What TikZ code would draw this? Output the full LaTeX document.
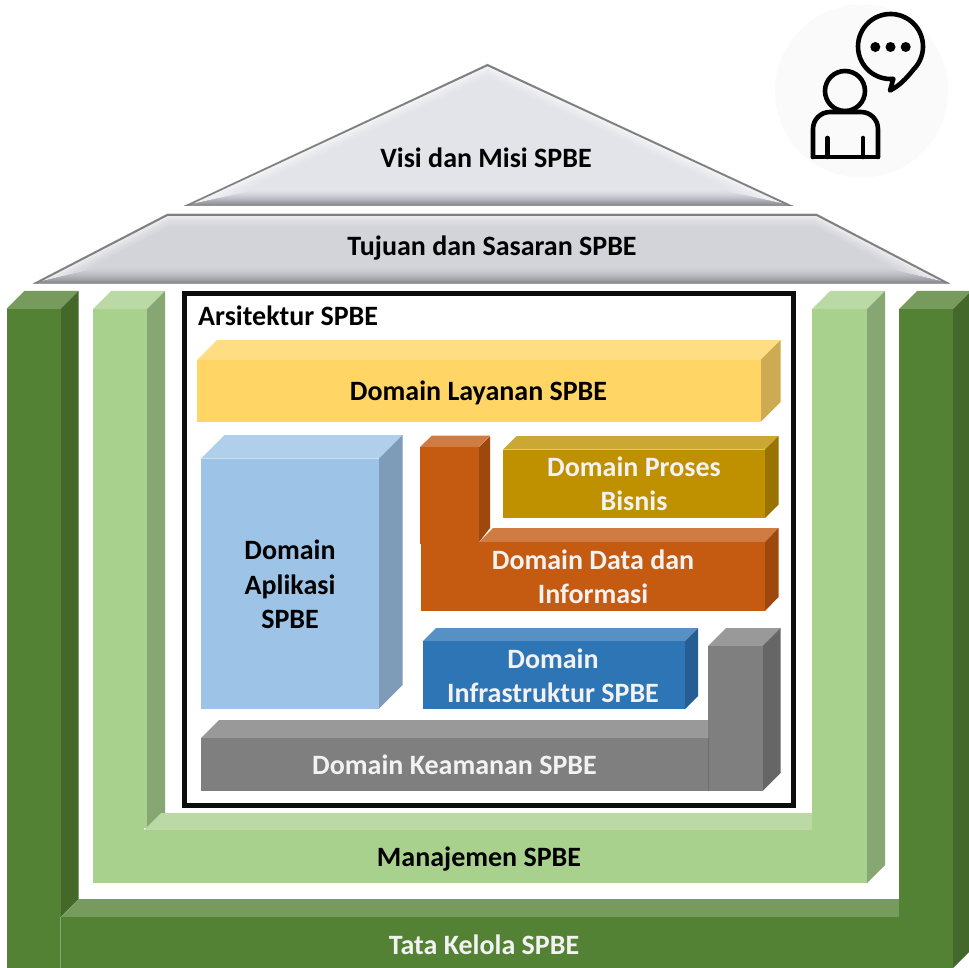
\documentclass[tikz,border=0pt]{standalone}
\usepackage{fontspec}
\setmainfont{Carlito}
\definecolor{dgF}{HTML}{548235}\definecolor{dgT}{HTML}{769B5D}\definecolor{dgS}{HTML}{43682A}
\definecolor{lgF}{HTML}{A9D18E}\definecolor{lgT}{HTML}{BAD9A5}\definecolor{lgS}{HTML}{87A772}
\definecolor{yeF}{HTML}{FFD666}\definecolor{yeT}{HTML}{FFDD82}\definecolor{yeS}{HTML}{CCAB52}
\definecolor{lbF}{HTML}{9DC3E6}\definecolor{lbT}{HTML}{B0CFEB}\definecolor{lbS}{HTML}{7E9CB8}
\definecolor{orF}{HTML}{C55A11}\definecolor{orT}{HTML}{D07B41}\definecolor{orS}{HTML}{9E480E}
\definecolor{goF}{HTML}{BF9000}\definecolor{goT}{HTML}{CBA733}\definecolor{goS}{HTML}{997300}
\definecolor{blF}{HTML}{2E75B6}\definecolor{blT}{HTML}{5790C5}\definecolor{blS}{HTML}{255E92}
\definecolor{grF}{HTML}{7F7F7F}\definecolor{grT}{HTML}{999999}\definecolor{grS}{HTML}{666666}
\definecolor{roofA}{HTML}{E3E4E9}\definecolor{roofB}{HTML}{D3D3DA}
\definecolor{roofLine}{HTML}{7F7F7F}\definecolor{roofDark}{HTML}{9A9AA2}
\definecolor{iconBg}{HTML}{FAFAFA}
\tikzset{
  label dark/.style={font=\fontsize{28}{34.5}\selectfont\bfseries, text=black, align=center, inner sep=0pt},
  label light/.style={font=\fontsize{28}{34.5}\selectfont\bfseries, text=white!95!black, align=center, inner sep=0pt},
  icon line/.style={draw=black, line width=4.6pt, line join=round, line cap=round},
}
% x0 y0 x1 y1 (front face), offset, colour prefix
\newcommand{\cuboid}[6]{%
  \fill[#6T] (#1,#2) -- (#1+#5,#2-#5) -- (#3+#5,#2-#5) -- (#3,#2) -- cycle;
  \fill[#6S] (#3,#2) -- (#3+#5,#2-#5) -- (#3+#5,#4-#5) -- (#3,#4) -- cycle;
  \fill[#6F] (#1,#2) rectangle (#3,#4);
}
% main colour, clip polygon, lit path, xl, xr, ybase, tan(half corner)
\newcommand{\bevel}[7]{%
  \begin{scope}
    \clip #2;
    \fill[#1] (-50,0) rectangle (1050,330);
    \foreach \d/\p in {14/100,12/92,10/84,8/74,6/62,4/48,2/30}{
      \draw[line width=2*\d pt,color=#1!\p!white,line join=miter,miter limit=20] #3;
    }
    \foreach \d in {17,16,...,3}{
      \pgfmathsetmacro{\p}{100*pow((17-\d)/14,1.6)}
      \fill[color=roofDark!\p!#1] (#4,#6) -- (#4+\d/#7,#6-\d) -- (#5-\d/#7,#6-\d) -- (#5,#6) -- cycle;
    }
    \fill[roofLine!85!white] (#4,#6) -- (#4+2/#7,#6-2.4) -- (#5-2/#7,#6-2.4) -- (#5,#6) -- cycle;
    \draw[roofLine,line width=4pt,line join=miter,miter limit=20] #3;
  \end{scope}
}
\begin{document}
\begin{tikzpicture}[x=1pt,y=-1pt]
\useasboundingbox (0,0) rectangle (969,968);
\clip (0,0) rectangle (969,968);
\fill[white] (0,0) rectangle (969,968);

% icon
\fill[iconBg] (861.5,91) circle[radius=86.5];
\draw[icon line] (890.5,46.5) ++(85:32.5) arc[start angle=85,end angle=405,radius=32.5]
   .. controls (906,79) and (899,86) .. (890,90.5) -- cycle;
\foreach \x in {875.3,890.5,905.7} \fill (\x,47) circle[radius=5];
\draw[icon line] (845,91) circle[radius=20];
\draw[icon line,rounded corners=17pt] (813,157) -- (813,112) -- (878,112) -- (878,157);
\draw[icon line] (813,157) -- (878,157);
\draw[icon line] (827.3,138) -- (827.3,157);
\draw[icon line] (863,138) -- (863,157);

% roof
\bevel{roofA}{(487.5,64) -- (793,206) -- (184,206) -- cycle}{(93,248) -- (487.5,64) -- (884,248)}{184}{793}{206}{0.22}
\bevel{roofB}{(167,214) -- (817,214) -- (950,283.5) -- (33,283.5) -- cycle}{(-34,318) -- (167,214) -- (817,214) -- (1016.5,318)}{33}{950}{283.5}{0.237}

% Tata Kelola: columns and beam
\fill[dgT] (6.5,309) -- (24.5,291) -- (78.5,291) -- (60.5,309) -- cycle;
\fill[dgS] (60.5,309) -- (78.5,291) -- (78.5,899) -- (60.5,917) -- cycle;
\fill[dgT] (60.5,917) -- (78.5,899) -- (899,899) -- (899,917) -- cycle;
\fill[dgF] (6.5,309) rectangle (60.5,968);
\fill[dgF] (60.3,917) rectangle (899.2,968);
\cuboid{899}{309}{953}{968}{18}{dg}
\draw[dgF!70!white,line width=.5pt] (60.5,917) -- (60.5,968);

% Manajemen: columns and beam
\fill[lgT] (93,309) -- (111,291) -- (165,291) -- (147,309) -- cycle;
\fill[lgS] (147,309) -- (165,291) -- (165,813) -- (147,830) -- cycle;
\fill[lgT] (144,830) -- (161,813) -- (812,813) -- (812,830) -- cycle;
\cuboid{812}{309}{867}{883}{18}{lg}
\fill[lgF] (93,309) rectangle (144,883);
\fill[lgF] (143.8,309) rectangle (147,828);
\fill[lgF] (143.8,830) rectangle (812.2,883);

% Arsitektur frame
\draw[black!95,line width=5pt] (184.5,293.5) rectangle (793,805.5);

% domains
\cuboid{197}{360}{760.5}{422}{20}{ye}
\cuboid{201}{458.5}{379}{708.5}{23.5}{lb}
\cuboid{503}{449.5}{765}{518}{13.5}{go}

% Data dan Informasi (L shape)
\fill[orS] (479,447) -- (490,436) -- (490,528) -- (479,542) -- cycle;
\fill[orT] (420,447) -- (432,435.5) -- (490,435.5) -- (479,447) -- cycle;
\fill[orT] (479,542) -- (493,528) -- (778.5,528) -- (765,542) -- cycle;
\fill[orS] (765,542) -- (778.5,528) -- (778.5,597) -- (765,611) -- cycle;
\fill[orF] (421,542) rectangle (765,611);
\fill[orF] (420,447) rectangle (479,544);

\cuboid{423}{641}{685}{709}{13}{bl}

% Keamanan (L shape)
\fill[grT] (201,738) -- (219,720) -- (708,720) -- (708,738) -- cycle;
\fill[grF] (201,738) rectangle (708,791);
\cuboid{708}{646}{762.5}{791}{18}{gr}
\draw[grS!70!grF,line width=.5pt] (708,738) -- (708,791);

% labels
\node[label dark] (visi) at (486,157.5) {Visi dan Misi SPBE};
\node[label dark] (tujuan) at (492,248.5) {Tujuan dan Sasaran SPBE};
\node[label dark,anchor=west] (arsi) at (198,316) {Arsitektur SPBE};
\node[label dark] (layanan) at (478.5,393) {Domain Layanan SPBE};
\node[label dark] (aplikasi) at (290,584.5) {Domain\\Aplikasi\\SPBE};
\node[label light] (proses) at (634,484) {Domain Proses\\Bisnis};
\node[label light] (data) at (593,577) {Domain Data dan\\Informasi};
\node[label light] (infra) at (553,676) {Domain\\Infrastruktur SPBE};
\node[label light] (keamanan) at (454.5,765) {Domain Keamanan SPBE};
\node[label dark] (manajemen) at (479,859) {Manajemen SPBE};
\node[label light] (tata) at (484,945) {Tata Kelola SPBE};
\end{tikzpicture}
\end{document}
